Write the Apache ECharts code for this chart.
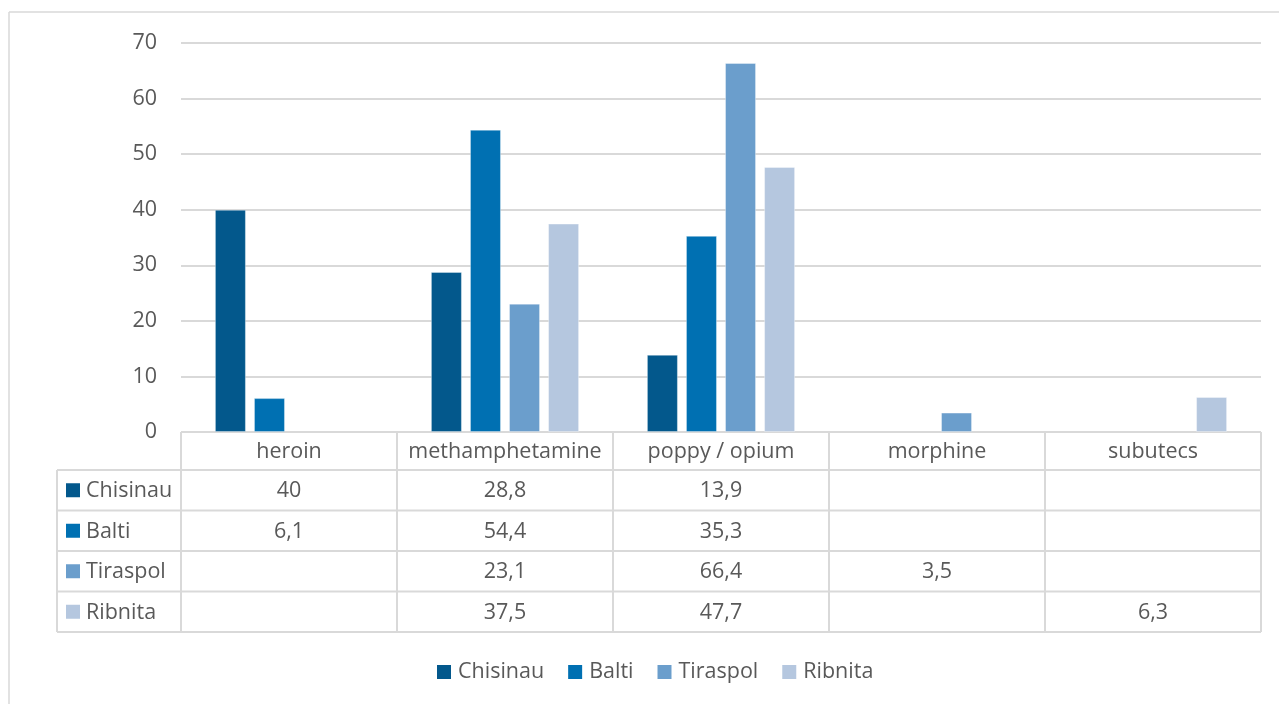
<!DOCTYPE html>
<html>
<head>
<meta charset="utf-8">
<script src="https://cdn.jsdelivr.net/npm/echarts@6/dist/echarts.min.js"></script>
<style>
html,body{margin:0;padding:0;background:#fff;}
#main{width:1279px;height:704px;}
</style>
</head>
<body>
<div id="main"></div>
<script>
// ---- data ----
var categories = ['heroin', 'methamphetamine', 'poppy / opium', 'morphine', 'subutecs'];
var seriesNames = ['Chisinau', 'Balti', 'Tiraspol', 'Ribnita'];
var chisinau = [40, 28.8, 13.9, null, null];
var balti = [6.1, 54.4, 35.3, null, null];
var tiraspol = [null, 23.1, 66.4, 3.5, null];
var ribnita = [null, 37.5, 47.7, null, 6.3];
var yTicks = [0, 10, 20, 30, 40, 50, 60, 70];

var seriesData = [chisinau, balti, tiraspol, ribnita];
var colors = ['#03588C', '#0070B2', '#6B9ECC', '#B5C7DF'];
var textColor = '#595959';
var lineColor = '#D9D9D9';
var fontFamily = '"Open Sans", "Noto Sans", sans-serif';
var fs = 21.5;

var chart = echarts.init(document.getElementById('main'));

var option = {
  animation: false,
  backgroundColor: '#fff',
  grid: { left: 181, right: 18, top: 43, bottom: 272 },
  xAxis: {
    type: 'category',
    data: categories,
    axisLine: { show: false },
    axisTick: { show: false },
    axisLabel: { show: false }
  },
  yAxis: {
    type: 'value',
    min: yTicks[0],
    max: yTicks[yTicks.length - 1],
    interval: 10,
    axisLine: { show: false },
    axisTick: { show: false },
    axisLabel: { color: textColor, fontSize: fs, fontFamily: fontFamily, margin: 24 },
    splitLine: { lineStyle: { color: lineColor, width: 2 } }
  },
  legend: {
    top: 656,
    left: 432,
    icon: 'rect',
    itemWidth: 14,
    itemHeight: 14,
    itemGap: 24,
    itemStyle: { borderWidth: 0 },
    textStyle: { color: textColor, fontSize: fs, fontFamily: fontFamily, padding: [0, 0, 0, 2] },
    data: seriesNames
  },
  series: seriesNames.map(function (n, i) {
    return {
      name: n,
      type: 'bar',
      data: seriesData[i],
      barWidth: 31,
      barGap: '26%',
      itemStyle: { color: colors[i], borderColor: 'rgba(255,255,255,0.35)', borderWidth: 1 }
    };
  })
};
chart.setOption(option);

function fmt(v) {
  if (v === null || v === undefined) return '';
  return String(v).replace('.', ',');
}

function buildTable() {
  var gridRect = chart.getModel().getComponent('grid').coordinateSystem.getRect();
  var x0 = gridRect.x, x1 = gridRect.x + gridRect.width;
  var yTop = chart.convertToPixel({ yAxisIndex: 0 }, 0);
  var leftX = 57;
  var headerH = 38, rowH = 40.5;
  var nCat = categories.length;
  var colW = (x1 - x0) / nCat;
  var rowsY = [yTop, yTop + headerH];
  for (var r = 0; r < seriesNames.length; r++) rowsY.push(rowsY[rowsY.length - 1] + rowH);
  var yBot = rowsY[rowsY.length - 1];
  var els = [];
  var ls = { stroke: lineColor, lineWidth: 2 };
  var font = fs + 'px ' + fontFamily;
  els.push({ type: 'line', shape: { x1: x0, y1: rowsY[0], x2: x1, y2: rowsY[0] }, style: ls, silent: true });
  for (var k = 1; k < rowsY.length; k++) {
    els.push({ type: 'line', shape: { x1: leftX, y1: rowsY[k], x2: x1, y2: rowsY[k] }, style: ls, silent: true });
  }
  els.push({ type: 'line', shape: { x1: leftX, y1: rowsY[1], x2: leftX, y2: yBot }, style: ls, silent: true });
  for (var c = 0; c <= nCat; c++) {
    var xx = x0 + c * colW;
    els.push({ type: 'line', shape: { x1: xx, y1: rowsY[0], x2: xx, y2: yBot }, style: ls, silent: true });
  }
  for (var c2 = 0; c2 < nCat; c2++) {
    var cx = chart.convertToPixel({ xAxisIndex: 0 }, categories[c2]);
    els.push({ type: 'text', x: cx, y: (rowsY[0] + rowsY[1]) / 2 + 1,
      style: { text: categories[c2], fill: textColor, font: font, align: 'center', verticalAlign: 'middle' }, silent: true });
  }
  for (var s = 0; s < seriesNames.length; s++) {
    var cy = (rowsY[s + 1] + rowsY[s + 2]) / 2;
    els.push({ type: 'rect', shape: { x: leftX + 9, y: cy - 7, width: 14, height: 14 }, style: { fill: colors[s] }, silent: true });
    els.push({ type: 'text', x: leftX + 29, y: cy + 1,
      style: { text: seriesNames[s], fill: textColor, font: font, align: 'left', verticalAlign: 'middle' }, silent: true });
    for (var c3 = 0; c3 < nCat; c3++) {
      var cx2 = chart.convertToPixel({ xAxisIndex: 0 }, categories[c3]);
      els.push({ type: 'text', x: cx2, y: cy + 1,
        style: { text: fmt(seriesData[s][c3]), fill: textColor, font: font, align: 'center', verticalAlign: 'middle' }, silent: true });
    }
  }
  els.push({ type: 'line', shape: { x1: 9, y1: 12, x2: 1279, y2: 12 }, style: { stroke: '#D9D9D9', lineWidth: 1.5 }, silent: true });
  els.push({ type: 'line', shape: { x1: 9, y1: 12, x2: 9, y2: 704 }, style: { stroke: '#D9D9D9', lineWidth: 1.5 }, silent: true });
  chart.setOption({ graphic: { elements: els } });
}
buildTable();
</script>
</body>
</html>
